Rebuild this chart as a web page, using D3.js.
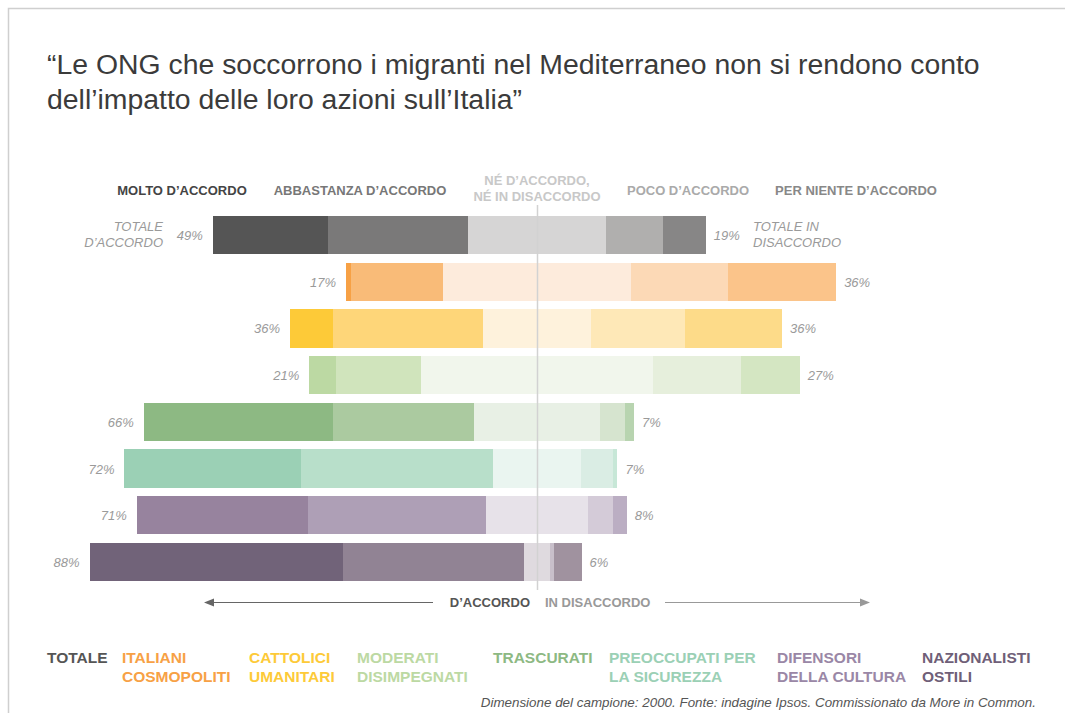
<!DOCTYPE html>
<html><head><meta charset="utf-8">
<script src="https://cdn.jsdelivr.net/npm/d3@7"></script>
<style>
html,body{margin:0;padding:0;background:#fff;}
svg{display:block;font-family:"Liberation Sans",Arial,Helvetica,sans-serif;}
</style></head>
<body><svg id="c" width="1065" height="713"></svg>
<script>
// ---- data ----
const groups = ["Totale","Italiani cosmopoliti","Cattolici umanitari","Moderati disimpegnati","Trascurati","Preoccupati per la sicurezza","Difensori della cultura","Nazionalisti ostili"];
const molto      = [23.4, 1.0, 8.7, 5.5, 38.4, 35.8, 34.8, 51.6];
const abbastanza = [28.5, 18.7, 30.5, 17.3, 28.7, 39.2, 36.2, 36.8];
const neutrale   = [28.0, 38.2, 22.0, 47.0, 25.6, 17.7, 20.7, 5.1];
const poco       = [11.6, 19.7, 19.1, 17.9, 5.1, 6.5, 5.1, 1.0];
const perNiente  = [8.7, 22.0, 19.7, 12.0, 1.8, 1.0, 2.8, 5.5];
const agreeLabels    = ["49%","17%","36%","21%","66%","72%","71%","88%"];
const disagreeLabels = ["19%","36%","36%","27%","7%","7%","8%","6%"];
const categories = ["MOLTO D’ACCORDO","ABBASTANZA D’ACCORDO","NÉ D’ACCORDO,|NÉ IN DISACCORDO","POCO D’ACCORDO","PER NIENTE D’ACCORDO"];
const legendLabels = ["TOTALE","ITALIANI|COSMOPOLITI","CATTOLICI|UMANITARI","MODERATI|DISIMPEGNATI","TRASCURATI","PREOCCUPATI PER|LA SICUREZZA","DIFENSORI|DELLA CULTURA","NAZIONALISTI|OSTILI"];
// colours per group: [molto, abbastanza, neutrale, poco, per niente]
const palette = [
  ["#555555","#7a7979","#d6d5d5","#b0afae","#878686"],
  ["#f7a145","#f9bb78","#fdebdc","#fcd9b6","#fbc48a"],
  ["#fdca38","#fed679","#fef2dc","#fee8b7","#fddb89"],
  ["#bcd9a3","#d0e4bc","#f1f6ec","#e6efdc","#d4e6c2"],
  ["#8db983","#abcaa0","#e8f0e5","#d6e4cf","#b8d4b0"],
  ["#9bd0b5","#b8dfca","#eaf5f0","#daede4","#c7e7d7"],
  ["#97839e","#ae9fb6","#e7e2e9","#d4cbd8","#bbaec3"],
  ["#716379","#918394","#dfdadf","#c8bfca","#a0929f"]
];
const legendColors = ["#555555","#f7a145","#fdca38","#bcd9a3","#8db983","#9bd0b5","#9a87a6","#6f5f78"];
const headerColors = ["#444444","#777777","#c8c8c8","#aaaaaa","#888888"];

// ---- layout ----
const svg = d3.select("#c");
const cx = 537;
const x = d3.scaleLinear().domain([-50,50]).range([cx-246, cx+246]);
const y = d3.scaleBand().domain(groups).range([216, 581]).paddingInner(0.18).paddingOuter(0);

// border
svg.append("path").attr("d","M8.5,713 L8.5,8.5 L1065,8.5").attr("fill","none").attr("stroke","#cfcfcf").attr("stroke-width",1.5);

// title
const title = svg.append("text").attr("x",47).attr("fill","#3b3b3b").style("font-size","28.4px");
title.append("tspan").attr("x",47).attr("y",74).text("“Le ONG che soccorrono i migranti nel Mediterraneo non si rendono conto");
title.append("tspan").attr("x",47).attr("y",109).text("dell’impatto delle loro azioni sull’Italia”");

// header category labels
const headerX = [182, 360, cx, 688, 856];
categories.forEach((c,i)=>{
  const lines = c.split("|");
  const t = svg.append("text").attr("text-anchor","middle").attr("fill",headerColors[i])
    .style("font-size","13px").style("font-weight","bold");
  lines.forEach((l,j)=>{
    t.append("tspan").attr("x",headerX[i]).attr("y", lines.length===1 ? 195 : 187 + j*16 - 2).text(l);
  });
});

// bars
const rows = groups.map((g,i)=>{
  const vals = [molto[i],abbastanza[i],neutrale[i],poco[i],perNiente[i]];
  let start = -(molto[i]+abbastanza[i]+neutrale[i]/2);
  const segs = vals.map((v,k)=>{ const s={g,k,x0:start,x1:start+v,color:palette[i][k]}; start+=v; return s; });
  return {g,i,segs};
});
const rowG = svg.selectAll("g.row").data(rows).join("g").attr("class","row");
rowG.selectAll("rect").data(d=>d.segs).join("rect")
  .attr("x",d=>x(d.x0)).attr("width",d=>x(d.x1)-x(d.x0))
  .attr("y",d=>y(d.g)).attr("height",y.bandwidth())
  .attr("fill",d=>d.color).attr("shape-rendering","crispEdges");

// center line
svg.append("line").attr("x1",cx+0.5).attr("x2",cx+0.5).attr("y1",205).attr("y2",590)
  .attr("stroke","#d2d2d2").attr("stroke-width",1.5);

// value labels
rows.forEach(r=>{
  const left = x(r.segs[0].x0), right = x(r.segs[4].x1);
  const ym = y(r.g) + y.bandwidth()/2 + 5;
  svg.append("text").attr("x",left-10).attr("y",ym).attr("text-anchor","end")
    .attr("fill","#9a9a9a").style("font-size","13px").style("font-style","italic").text(agreeLabels[r.i]);
  svg.append("text").attr("x",right+8).attr("y",ym).attr("text-anchor","start")
    .attr("fill","#9a9a9a").style("font-size","13px").style("font-style","italic").text(disagreeLabels[r.i]);
});
// totale side labels
const y0 = y(groups[0]);
const tl = svg.append("text").attr("text-anchor","end").attr("fill","#9a9a9a").style("font-size","13px").style("font-style","italic");
tl.append("tspan").attr("x",163).attr("y",y0+15).text("TOTALE");
tl.append("tspan").attr("x",163).attr("y",y0+31).text("D’ACCORDO");
const tr = svg.append("text").attr("text-anchor","start").attr("fill","#9a9a9a").style("font-size","13px").style("font-style","italic");
tr.append("tspan").attr("x",753).attr("y",y0+15).text("TOTALE IN");
tr.append("tspan").attr("x",753).attr("y",y0+31).text("DISACCORDO");

// bottom arrows
const defs = svg.append("defs");
defs.append("marker").attr("id","ah").attr("viewBox","0 0 10 10").attr("refX",9).attr("refY",5)
  .attr("markerWidth",10).attr("markerHeight",10).attr("markerUnits","userSpaceOnUse").attr("orient","auto")
  .append("path").attr("d","M0,1 L10,5 L0,9 Z").attr("fill","#666");
defs.append("marker").attr("id","ah2").attr("viewBox","0 0 10 10").attr("refX",9).attr("refY",5)
  .attr("markerWidth",10).attr("markerHeight",10).attr("markerUnits","userSpaceOnUse").attr("orient","auto")
  .append("path").attr("d","M0,1 L10,5 L0,9 Z").attr("fill","#999");
svg.append("line").attr("x1",433).attr("x2",205).attr("y1",602.5).attr("y2",602.5)
  .attr("stroke","#666").attr("stroke-width",1).attr("marker-end","url(#ah)");
svg.append("line").attr("x1",665).attr("x2",869).attr("y1",602.5).attr("y2",602.5)
  .attr("stroke","#999").attr("stroke-width",1).attr("marker-end","url(#ah2)");
svg.append("text").attr("x",530).attr("y",607).attr("text-anchor","end").attr("fill","#555")
  .style("font-size","13px").style("font-weight","bold").text("D’ACCORDO");
svg.append("text").attr("x",545).attr("y",607).attr("text-anchor","start").attr("fill","#999")
  .style("font-size","13px").style("font-weight","bold").text("IN DISACCORDO");

// legend
const legX = [47,122,249,357,493,609,777,922];
legendLabels.forEach((l,i)=>{
  const t = svg.append("text").attr("fill",legendColors[i]).style("font-size","15.5px").style("font-weight","bold");
  l.split("|").forEach((s,j)=>t.append("tspan").attr("x",legX[i]).attr("y",663+j*19).text(s));
});

// footer
svg.append("text").attr("x",1036).attr("y",707).attr("text-anchor","end").attr("fill","#555")
  .style("font-size","13.4px").style("font-style","italic")
  .text("Dimensione del campione: 2000. Fonte: indagine Ipsos. Commissionato da More in Common.");
</script></body></html>
